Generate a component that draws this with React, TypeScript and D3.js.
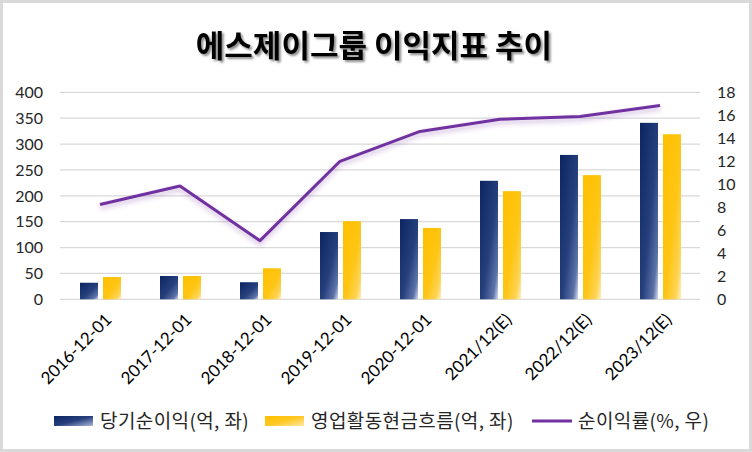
import React from 'react';
import * as d3 from 'd3';

const categories = ['2016-12-01', '2017-12-01', '2018-12-01', '2019-12-01', '2020-12-01', '2021/12(E)', '2022/12(E)', '2023/12(E)'];
const netIncome = [32, 45, 33, 130, 155, 229, 279, 341];
const operatingCashFlow = [43, 45, 60, 151, 138, 209, 240, 319];
const netMargin = [8.25, 9.85, 5.1, 12.0, 14.6, 15.65, 15.9, 16.85];
const leftTicks = [0, 50, 100, 150, 200, 250, 300, 350, 400];
const rightTicks = [0, 2, 4, 6, 8, 10, 12, 14, 16, 18];
const seriesNames = ['당기순이익(억, 좌)', '영업활동현금흐름(억, 좌)', '순이익률(%, 우)'];

const W = 752;
const H = 452;
const margin = { top: 92.3, right: 52, bottom: 152.7, left: 60 };
const latin = 'Lato, "Noto Sans", sans-serif';
const korean = '"Noto Sans CJK KR", "Noto Sans", sans-serif';

const App: React.FC = () => {
  const x = d3.scaleBand<string>()
    .domain(categories)
    .range([margin.left, W - margin.right])
    .padding(0);

  // two bars inside each category
  const xSub = d3.scaleBand<number>()
    .domain([0, 1])
    .range([20, 61])
    .paddingInner(0.217);

  const yLeft = d3.scaleLinear()
    .domain([0, 400])
    .range([H - margin.bottom, margin.top]);

  const yRight = d3.scaleLinear()
    .domain([0, 18])
    .range([H - margin.bottom, margin.top]);

  const line = d3.line<number>()
    .x((_, i) => x(categories[i])! + x.bandwidth() / 2)
    .y(d => yRight(d));

  const bars = [
    { values: netIncome, fill: 'url(#navyGrad)' },
    { values: operatingCashFlow, fill: 'url(#goldGrad)' },
  ];

  const legend = [
    { kind: 'rect', fill: 'url(#navyLegend)', x: 54, text: seriesNames[0] },
    { kind: 'rect', fill: 'url(#goldLegend)', x: 265, text: seriesNames[1] },
    { kind: 'line', fill: '#7030A0', x: 532, text: seriesNames[2] },
  ];

  return (
    <div style={{ position: 'fixed', left: 0, top: 0 }}>
      <svg width={W} height={H} style={{ display: 'block', background: '#fff' }}>
        <defs>
          <linearGradient id="navyGrad" x1="0" y1="0" x2="1" y2="1">
            <stop offset="0" stopColor="#0B2462" />
            <stop offset="0.55" stopColor="#26407E" />
            <stop offset="0.85" stopColor="#5D73A8" />
            <stop offset="1" stopColor="#D5DCEE" />
          </linearGradient>
          <linearGradient id="goldGrad" x1="0" y1="0" x2="1" y2="1">
            <stop offset="0" stopColor="#FFC000" />
            <stop offset="0.55" stopColor="#FFC514" />
            <stop offset="0.85" stopColor="#FFD456" />
            <stop offset="1" stopColor="#FFF0C4" />
          </linearGradient>
          <linearGradient id="navyLegend" x1="0" y1="0" x2="1" y2="1">
            <stop offset="0" stopColor="#0B2462" />
            <stop offset="0.5" stopColor="#26407E" />
            <stop offset="1" stopColor="#A9B6D6" />
          </linearGradient>
          <linearGradient id="goldLegend" x1="0" y1="0" x2="1" y2="1">
            <stop offset="0" stopColor="#FFC000" />
            <stop offset="0.5" stopColor="#FFC824" />
            <stop offset="1" stopColor="#FFE9A6" />
          </linearGradient>
          <filter id="glow" x="-10%" y="-50%" width="120%" height="200%">
            <feDropShadow dx="0" dy="3" stdDeviation="2.5" floodColor="#7030A0" floodOpacity="0.35" />
          </filter>
          <filter id="titleShadow" x="-5%" y="-30%" width="110%" height="160%">
            <feDropShadow dx="2" dy="2" stdDeviation="1.3" floodColor="#000" floodOpacity="0.45" />
          </filter>
        </defs>

        {/* outer border */}
        <rect x={1.5} y={1.5} width={W - 3} height={H - 3} fill="#fff" stroke="#D9D9D9" strokeWidth={3} />

        {/* Title */}
        <text
          x={374}
          y={57}
          textAnchor="middle"
          fontFamily={korean}
          fontWeight="bold"
          fontSize={31}
          fill="#000"
          filter="url(#titleShadow)"
        >
          에스제이그룹 이익지표 추이
        </text>

        {/* Grid lines */}
        {leftTicks.map(t => (
          <line
            key={`g${t}`}
            x1={margin.left}
            x2={W - margin.right}
            y1={yLeft(t)}
            y2={yLeft(t)}
            stroke="#D9D9D9"
            strokeWidth={1.2}
          />
        ))}

        {/* Left axis */}
        {leftTicks.map(t => (
          <text key={`l${t}`} x={43} y={yLeft(t)} dy="0.36em" textAnchor="end" fontFamily={latin} fontSize={16} fill="#262626">
            {t}
          </text>
        ))}

        {/* Right axis */}
        {rightTicks.map(t => (
          <text key={`r${t}`} x={717} y={yRight(t)} dy="0.36em" textAnchor="start" fontFamily={latin} fontSize={16} fill="#262626">
            {t}
          </text>
        ))}

        {/* Bars */}
        {bars.map((s, si) =>
          s.values.map((v, i) => (
            <rect
              key={`b${si}-${i}`}
              x={x(categories[i])! + xSub(si)!}
              y={yLeft(v)}
              width={xSub.bandwidth()}
              height={yLeft(0) - yLeft(v)}
              fill={s.fill}
            />
          ))
        )}

        {/* Net margin line */}
        <path d={line(netMargin)!} fill="none" stroke="#7030A0" strokeWidth={3} strokeLinejoin="round" filter="url(#glow)" />

        {/* X axis labels */}
        {categories.map(c => {
          const cx = x(c)! + x.bandwidth() / 2;
          return (
            <text
              key={c}
              transform={`translate(${cx + 4},${312}) rotate(-45)`}
              textAnchor="end"
              dy="0.72em"
              fontFamily={latin}
              fontSize={17}
              fill="#000"
            >
              {c}
            </text>
          );
        })}

        {/* Legend */}
        {legend.map(l => (
          <g key={l.text}>
            {l.kind === 'rect' ? (
              <rect x={l.x} y={416} width={39} height={10} fill={l.fill} />
            ) : (
              <line x1={l.x} x2={l.x + 40} y1={421} y2={421} stroke={l.fill} strokeWidth={3} />
            )}
            <text x={l.x + 46} y={428} fontFamily={korean} fontSize={19} letterSpacing={0.4} fill="#262626">
              {l.text}
            </text>
          </g>
        ))}
      </svg>
    </div>
  );
};

export default App;
